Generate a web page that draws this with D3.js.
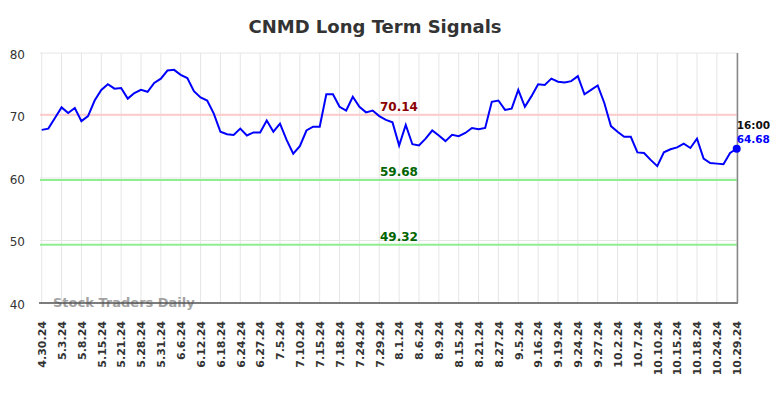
<!DOCTYPE html>
<html>
<head>
<meta charset="utf-8">
<script src="https://cdn.jsdelivr.net/npm/d3@7"></script>
<style>
  body { margin: 0; background: #fff; }
  svg { display: block; font-family: "DejaVu Sans", sans-serif; }
</style>
</head>
<body>
<div id="chart"></div>
<script>
// tick labels, one every 3 points
let dateLabels = ["4.30.24", "5.3.24", "5.8.24", "5.15.24", "5.21.24", "5.28.24", "5.31.24", "6.6.24",
    "6.12.24", "6.18.24", "6.24.24", "6.27.24", "7.5.24", "7.10.24", "7.15.24", "7.18.24", "7.24.24",
    "7.29.24", "8.1.24", "8.6.24", "8.9.24", "8.15.24", "8.21.24", "8.27.24", "9.5.24", "9.16.24",
    "9.19.24", "9.24.24", "9.27.24", "10.2.24", "10.7.24", "10.10.24", "10.15.24", "10.18.24",
    "10.24.24", "10.29.24"];

let prices = [
    67.7, 67.9, 69.6, 71.3, 70.4, 71.2, 69.1, 69.9, 72.4, 74.1,
    75.0, 74.3, 74.4, 72.7, 73.6, 74.1, 73.8, 75.2, 75.9, 77.2,
    77.3, 76.5, 76.0, 73.9, 72.9, 72.4, 70.3, 67.4, 67.0, 66.9,
    67.9, 66.8, 67.3, 67.3, 69.2, 67.4, 68.7, 66.1, 63.9, 65.1,
    67.6, 68.2, 68.2, 73.4, 73.4, 71.4, 70.8, 73.0, 71.4, 70.5,
    70.8, 69.9, 69.3, 68.9, 65.2, 68.5, 65.4, 65.2, 66.3, 67.6,
    66.8, 65.9, 66.9, 66.7, 67.2, 68.0, 67.8, 68.0, 72.2, 72.4,
    70.9, 71.1, 74.1, 71.4, 73.1, 75.0, 74.9, 75.9, 75.4, 75.3,
    75.5, 76.3, 73.4, 74.1, 74.8, 72.0, 68.3, 67.4, 66.6, 66.6,
    64.1, 64.0, 62.9, 61.9, 64.1, 64.6, 64.9, 65.5, 64.8, 66.3,
    63.1, 62.4, 62.3, 62.2, 64.0, 64.68];

let yTicks = [40, 50, 60, 70, 80];
let levels = [
    {value: 70.14, line: "#ffcccc", text: "#8b0000"},
    {value: 59.68, line: "#90ee90", text: "#006400"},
    {value: 49.32, line: "#90ee90", text: "#006400"}
];

let width = 784, height = 398;
let plot = {left: 40, right: 738, top: 53, bottom: 303};

let svg = d3.select("#chart").append("svg")
    .attr("width", width)
    .attr("height", height);

let xScale = d3.scaleLinear().domain([0, prices.length - 1]).range([41.7, 736.7]);
let yScale = d3.scaleLinear().domain([40, 80]).range([plot.bottom, plot.top]);

let tickIdx = d3.range(0, prices.length, 3);

// title
svg.append("text")
    .attr("x", 375).attr("y", 33)
    .attr("text-anchor", "middle")
    .style("font-size", "18px").style("font-weight", "bold").style("fill", "#333")
    .text("CNMD Long Term Signals");

// grid
svg.append("g").selectAll("line").data(yTicks).enter().append("line")
    .attr("x1", plot.left).attr("x2", plot.right)
    .attr("y1", d => yScale(d)).attr("y2", d => yScale(d))
    .style("stroke", "#e6e6e6").style("stroke-width", 1);

svg.append("g").selectAll("line").data(tickIdx).enter().append("line")
    .attr("x1", d => xScale(d)).attr("x2", d => xScale(d))
    .attr("y1", plot.top).attr("y2", plot.bottom)
    .style("stroke", "#e6e6e6").style("stroke-width", 1);

// y labels
svg.append("g").selectAll("text").data(yTicks).enter().append("text")
    .attr("x", 25).attr("y", d => yScale(d) + 1.5)
    .attr("dy", "0.35em")
    .attr("text-anchor", "end")
    .style("font-size", "12px").style("fill", "#333")
    .text(d => d);

// watermark
svg.append("text")
    .attr("x", 53).attr("y", 306.5)
    .style("font-size", "13px").style("font-weight", "bold").style("fill", "#999")
    .style("opacity", 0.9)
    .text("Stock Traders Daily");

// level lines
svg.append("g").selectAll("line").data(levels).enter().append("line")
    .attr("x1", plot.left).attr("x2", plot.right)
    .attr("y1", d => yScale(d.value)).attr("y2", d => yScale(d.value))
    .style("stroke", d => d.line).style("stroke-width", 2);

svg.append("g").selectAll("text").data(levels).enter().append("text")
    .attr("x", 399).attr("y", d => yScale(d.value) - 4)
    .attr("text-anchor", "middle")
    .style("font-size", "12px").style("font-weight", "bold")
    .style("fill", d => d.text)
    .text(d => d.value.toFixed(2));

// x axis
let xAxis = d3.axisBottom(xScale)
    .tickValues(tickIdx)
    .tickSize(0)
    .tickFormat(d => dateLabels[d / 3]);

let gx = svg.append("g")
    .attr("transform", "translate(0," + plot.bottom + ")")
    .call(xAxis);
gx.select(".domain").remove();
gx.selectAll("text")
    .attr("transform", "rotate(-90)")
    .attr("x", -18).attr("y", 0)
    .attr("dy", "0.35em")
    .attr("text-anchor", "end")
    .style("font-size", "11px").style("font-weight", "bold").style("fill", "#333")
    .style("font-family", "DejaVu Sans, sans-serif");

svg.append("line")
    .attr("x1", plot.left - 1).attr("x2", plot.right)
    .attr("y1", plot.bottom).attr("y2", plot.bottom)
    .style("stroke", "#555").style("stroke-width", 1.5);

svg.append("line")
    .attr("x1", plot.right - 0.5).attr("x2", plot.right - 0.5)
    .attr("y1", plot.top).attr("y2", plot.bottom)
    .style("stroke", "#888").style("stroke-width", 1.5);

// price line
let line = d3.line()
    .x((d, i) => xScale(i))
    .y(d => yScale(d));

svg.append("path")
    .datum(prices)
    .attr("d", line)
    .style("fill", "none").style("stroke", "#0000ff").style("stroke-width", 2);

let last = prices.length - 1;
svg.append("circle")
    .attr("cx", xScale(last)).attr("cy", yScale(prices[last]))
    .attr("r", 4).style("fill", "#0000ff");

svg.append("text")
    .attr("x", xScale(last)).attr("y", 129)
    .style("font-size", "10.5px").style("font-weight", "bold").style("fill", "#111")
    .text("16:00");

svg.append("text")
    .attr("x", xScale(last)).attr("y", 142.5)
    .style("font-size", "10.5px").style("font-weight", "bold").style("fill", "#0000ff")
    .text(prices[last].toFixed(2));
</script>
</body>
</html>
